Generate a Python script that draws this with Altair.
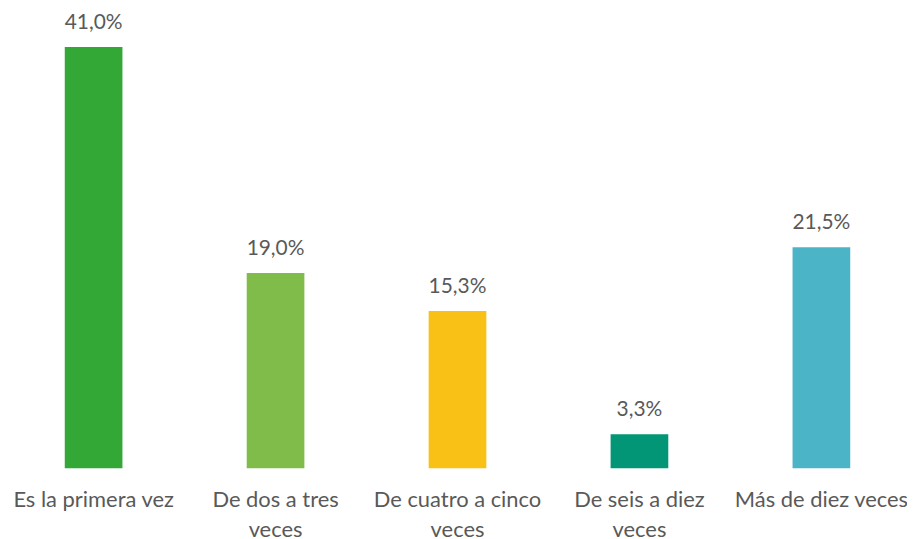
import altair as alt
import pandas as pd

categories = ["Es la primera vez", "De dos a tres|veces", "De cuatro a cinco|veces",
              "De seis a diez|veces", "Más de diez veces"]
values = [41.0, 19.0, 15.3, 3.3, 21.5]
colors = ["#33a836", "#7fbc4a", "#f9c115", "#039676", "#4bb4c6"]

df = pd.DataFrame({"cat": categories, "val": values, "color": colors})
df["label"] = df["val"].map(lambda v: f"{v:.1f}".replace(".", ",") + "%")

xenc = alt.X("cat:N", sort=categories,
             scale=alt.Scale(paddingInner=0.683, paddingOuter=0.312),
             axis=alt.Axis(title=None, labelExpr="split(datum.label, '|')",
                           labelAngle=0, domain=False, ticks=False,
                           labelFont="Lato", labelFontSize=22, labelColor="#595959",
                           labelPadding=22, labelLineHeight=30, labelLimit=400))
yenc = alt.Y("val:Q", scale=alt.Scale(domain=[0, 44.68], nice=False, zero=True), axis=None)

bars = alt.Chart(df).mark_bar().encode(
    x=xenc, y=yenc, color=alt.Color("color:N", scale=None))
text = alt.Chart(df).mark_text(baseline="bottom", dy=-14, font="Lato", fontSize=21,
                               color="#595959").encode(
    x=alt.X("cat:N", sort=categories), y="val:Q", text="label:N")

chart = (bars + text).properties(
    width=903, height=461,
    autosize=alt.AutoSizeParams(type="none"),
    padding={"left": 0, "top": 0, "right": 0, "bottom": 78}
).configure_view(stroke=None).configure_axis(grid=False)

chart.save("out.html", embed_options={"renderer": "svg", "actions": False})
